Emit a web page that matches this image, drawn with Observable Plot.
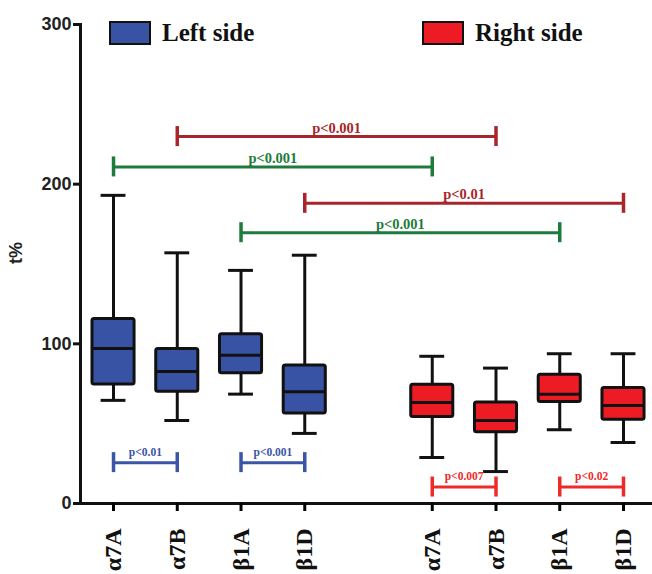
<!DOCTYPE html>
<html>
<head>
<meta charset="utf-8">
<script src="https://cdn.jsdelivr.net/npm/d3@7"></script>
<script src="https://cdn.jsdelivr.net/npm/@observablehq/plot@0.6"></script>
<style>
  body { margin: 0; background: #fff; }
  #wrap { position: relative; width: 652px; height: 574px; }
  .leg { position: absolute; font-family: "Liberation Serif", serif; font-weight: bold; font-size: 25px; line-height: 25px; color: #111; white-space: nowrap; }
  .sw { position: absolute; box-sizing: border-box; border: 2.5px solid #111; width: 42px; height: 24px; }
</style>
</head>
<body>
<div id="wrap"></div>
<script>
// ---- data ----
const labels = ["α7A", "α7B", "β1A", "β1D", "α7A", "α7B", "β1A", "β1D"];
const sides = ["Left side", "Left side", "Left side", "Left side", "Right side", "Right side", "Right side", "Right side"];
const whiskerLow  = [64.6, 52.0, 68.5, 43.9, 28.8, 20.0, 46.2, 38.2];
const q1          = [74.6, 70.0, 81.5, 56.4, 54.1, 44.7, 63.5, 52.5];
const median      = [97.0, 82.7, 92.8, 70.0, 63.3, 52.0, 68.5, 61.4];
const q3          = [115.5, 96.7, 106.0, 86.5, 74.4, 63.3, 80.7, 72.3];
const whiskerHigh = [193.0, 157.0, 146.0, 155.5, 92.2, 84.8, 93.8, 93.8];
const yTicks = [0, 100, 200, 300];

const compFrom  = [1, 0, 3, 2, 0, 2, 4, 6];
const compTo    = [5, 4, 7, 6, 1, 3, 5, 7];
const compY     = [229.8, 210.8, 188.0, 169.6, 25.6, 25.6, 10.3, 10.3];
const compLabel = ["p<0.001", "p<0.001", "p<0.01", "p<0.001", "p<0.01", "p<0.001", "p<0.007", "p<0.02"];
const compKind  = ["between", "between", "between", "between", "left", "left", "right", "right"];
const compPal   = ["#a8262b", "#1e7b3c", "#a8262b", "#1e7b3c", "#3a55a5", "#3a55a5", "#ee2a2a", "#ee2a2a"];

// ---- layout helpers ----
const pos = i => (i < 4 ? i + 1 : i + 2);   // gap between the two sides
const boxHalf = 0.33, capHalf = 0.195;
const pxPerUnit = (574 - 24 - 71) / 300;
const endHalf = 10 / pxPerUnit;

const boxes = labels.map((l, i) => ({
  label: l, side: sides[i], x: pos(i),
  lo: whiskerLow[i], q1: q1[i], med: median[i], q3: q3[i], hi: whiskerHigh[i]
}));
const comps = compLabel.map((l, i) => ({
  label: l, kind: compKind[i], color: compPal[i],
  x1: pos(compFrom[i]), x2: pos(compTo[i]), y: compY[i]
}));
const tickLabel = new Map(boxes.map(b => [b.x, b.label]));
const serif = "Liberation Serif, Times New Roman, serif";
const sans = "Liberation Sans, Arial, sans-serif";

const chart = Plot.plot({
  width: 652,
  height: 574,
  marginLeft: 80,
  marginRight: 0,
  marginTop: 24,
  marginBottom: 71,
  x: { domain: [0.482, 9.455] },
  y: { domain: [0, 300] },
  color: { domain: ["Left side", "Right side"], range: ["#3853a4", "#ed1c24"] },
  marks: [
    Plot.frame({ anchor: "left", stroke: "#111", strokeWidth: 3 }),
    Plot.ruleY([0], { stroke: "#111", strokeWidth: 3 }),
    Plot.axisY(yTicks, { tickSize: 7, tickPadding: 2, strokeWidth: 3, fontSize: 18, fontWeight: "bold", fontFamily: sans, fill: "#222", stroke: "#111", label: null }),
    Plot.axisX(boxes.map(b => b.x), {
      tickFormat: d => tickLabel.get(d), tickRotate: -90, tickSize: 8, tickPadding: 17,
      strokeWidth: 3, fontSize: 24, fontWeight: "bold", fontFamily: serif, fill: "#111", label: null
    }),
    Plot.text(["t%"], { frameAnchor: "left", rotate: -90, dx: -64, fontSize: 18, fontWeight: "bold", fontFamily: sans, fill: "#222" }),
    // whiskers
    Plot.ruleX(boxes, { x: "x", y1: "lo", y2: "hi", stroke: "#111", strokeWidth: 3 }),
    Plot.ruleY(boxes, { y: "lo", x1: d => d.x - capHalf, x2: d => d.x + capHalf, stroke: "#111", strokeWidth: 3 }),
    Plot.ruleY(boxes, { y: "hi", x1: d => d.x - capHalf, x2: d => d.x + capHalf, stroke: "#111", strokeWidth: 3 }),
    // boxes
    Plot.rect(boxes, { x1: d => d.x - boxHalf, x2: d => d.x + boxHalf, y1: "q1", y2: "q3", fill: "side", stroke: "#111", strokeWidth: 3, rx: 2 }),
    Plot.ruleY(boxes, { y: "med", x1: d => d.x - boxHalf, x2: d => d.x + boxHalf, stroke: "#111", strokeWidth: 3 }),
    // comparison brackets
    Plot.ruleY(comps, { y: "y", x1: "x1", x2: "x2", stroke: d => d.color, strokeWidth: 3 }),
    Plot.ruleX(comps, { x: "x1", y1: d => d.y - endHalf, y2: d => d.y + endHalf, stroke: d => d.color, strokeWidth: 3.5 }),
    Plot.ruleX(comps, { x: "x2", y1: d => d.y - endHalf, y2: d => d.y + endHalf, stroke: d => d.color, strokeWidth: 3.5 }),
    Plot.text(comps.filter(d => d.kind === "between"), {
      x: d => (d.x1 + d.x2) / 2, y: "y", text: "label", fill: d => d.color,
      lineAnchor: "bottom", dy: -4, fontSize: 14.5, fontWeight: "bold", fontFamily: serif
    }),
    Plot.text(comps.filter(d => d.kind !== "between"), {
      x: d => (d.x1 + d.x2) / 2, y: "y", text: "label", fill: d => d.color,
      lineAnchor: "bottom", dy: -7, fontSize: 11.5, fontWeight: "bold", fontFamily: serif
    })
  ]
});

const wrap = document.getElementById("wrap");
wrap.appendChild(chart);

// legend (HTML overlay)
const legendItems = [
  { name: sides[0], left: 109, textLeft: 162 },
  { name: sides[4], left: 422, textLeft: 475 }
];
const colorScale = chart.scale("color");
legendItems.forEach(it => {
  const sw = document.createElement("div");
  sw.className = "sw";
  sw.style.left = it.left + "px";
  sw.style.top = "21px";
  sw.style.background = colorScale.apply(it.name);
  wrap.appendChild(sw);
  const t = document.createElement("div");
  t.className = "leg";
  t.style.left = it.textLeft + "px";
  t.style.top = "20px";
  t.textContent = it.name;
  wrap.appendChild(t);
});
chart.style.position = "absolute";
chart.style.left = "0";
chart.style.top = "0";
</script>
</body>
</html>
